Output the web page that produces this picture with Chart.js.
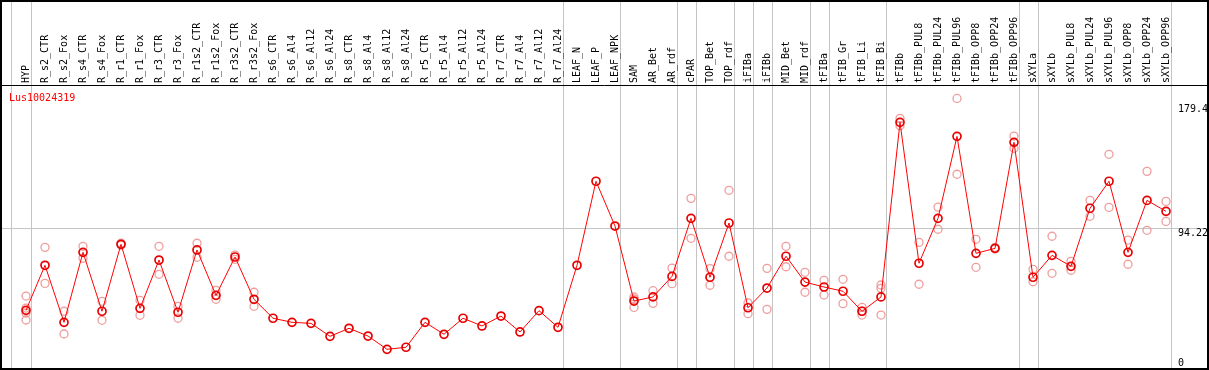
<!DOCTYPE html>
<html>
<head>
<meta charset="utf-8">
<script src="https://cdn.jsdelivr.net/npm/chart.js@4.4.1/dist/chart.umd.min.js"></script>
<style>
html,body{margin:0;padding:0;background:#fff;}
canvas{display:block;}
</style>
</head>
<body>
<canvas id="c" width="1209" height="370"></canvas>
<script>
const geneTitle = "Lus10024319";
const categories = ["HYP","R_s2_CTR","R_s2_Fox","R_s4_CTR","R_s4_Fox","R_r1_CTR","R_r1_Fox","R_r3_CTR","R_r3_Fox","R_r1s2_CTR","R_r1s2_Fox","R_r3s2_CTR","R_r3s2_Fox","R_s6_CTR","R_s6_Al4","R_s6_Al12","R_s6_Al24","R_s8_CTR","R_s8_Al4","R_s8_Al12","R_s8_Al24","R_r5_CTR","R_r5_Al4","R_r5_Al12","R_r5_Al24","R_r7_CTR","R_r7_Al4","R_r7_Al12","R_r7_Al24","LEAF_N","LEAF_P","LEAF_NPK","SAM","AR_Bet","AR_rdf","cPAR","TOP_Bet","TOP_rdf","iFIBa","iFIBb","MID_Bet","MID_rdf","tFIBa","tFIB_Gr","tFIB_Li","tFIB_Bi","tFIBb","tFIBb_PUL8","tFIBb_PUL24","tFIBb_PUL96","tFIBb_OPP8","tFIBb_OPP24","tFIBb_OPP96","sXYLa","sXYLb","sXYLb_PUL8","sXYLb_PUL24","sXYLb_PUL96","sXYLb_OPP8","sXYLb_OPP24","sXYLb_OPP96"];

const meanValues = [38.0,68.9,29.8,77.8,37.4,83.3,39.4,72.5,36.7,79.4,48.3,74.6,45.6,
  32.6,29.8,29.1,20.2,25.7,20.4,11.3,12.7,29.8,21.6,32.6,27.3,34.1,23.2,37.8,26.4,
  68.9,126.5,95.8,
  44.4,47.2,61.3,101.1,60.7,97.9,39.8,53.3,75.1,57.4,54.0,51.1,37.4,47.2,
  166.9,70.3,101.1,157.3,77.1,80.5,153.2,60.7,75.7,68.2,108.0,126.5,77.8,113.4,105.9];

const rep1 = [47.8,81.2,37.4,81.9,44.2,84.0,44.9,81.9,40.8,84.0,51.7,75.9,50.4,
  null,null,null,null,null,null,null,null,null,null,null,null,null,null,null,null,
  null,null,null,
  47.2,51.5,67.0,114.8,66.6,120.3,43.2,66.8,81.9,64.1,58.6,59.3,40.1,55.4,
  169.6,84.6,108.8,183.3,86.7,81.2,157.5,66.1,88.8,71.6,113.4,145.0,86.2,133.3,112.7];

const rep2 = [39.6,56.5,21.8,73.7,31.2,82.8,34.6,62.7,32.6,74.4,45.6,73.0,40.8,
  null,null,null,null,null,null,null,null,null,null,null,null,null,null,null,null,
  null,null,null,
  45.8,42.8,56.3,87.4,55.2,75.1,35.7,38.7,67.9,50.4,48.5,42.6,34.8,53.1,
  164.6,55.9,93.6,131.3,67.5,80.1,149.1,57.6,63.4,65.5,102.5,108.6,69.6,92.9,99.0];

const rep3 = [36.2,null,null,null,null,null,null,null,null,null,null,null,null,
  null,null,null,null,null,null,null,null,null,null,null,null,null,null,null,null,
  null,null,null,
  40.0,null,null,null,null,null,null,null,null,null,null,null,37.4,34.8,
  null,null,null,null,null,null,null,null,null,null,null,null,null,null,null];

const rep4 = [31.4];

const yTicks = [0, 94.22, 179.4];
const gridTick = 94.22;
const groupEnds = [0,28,31,34,35,37,38,39,41,42,45,52,53,60];

const toPts = arr => categories.map((_, i) => ({x: i, y: (arr[i] === undefined ? null : arr[i])}));

const repStyle = {
  showLine: false, pointStyle: 'circle', pointRadius: 4, pointBorderWidth: 1.3,
  pointBorderColor: 'rgba(236,140,140,0.85)', pointBackgroundColor: 'rgba(0,0,0,0)', order: 1
};

const framePlugin = {
  id: 'framePlugin',
  beforeDatasetsDraw(chart) {
    const {ctx, scales: {x}, chartArea} = chart;
    ctx.save();
    ctx.strokeStyle = '#c4c4c4';
    ctx.lineWidth = 1;
    const seps = [-0.805].concat(groupEnds.map(g => g + 0.247));
    seps.forEach(v => {
      const px = Math.round(x.getPixelForValue(v)) + 0.5;
      ctx.beginPath(); ctx.moveTo(px, 0); ctx.lineTo(px, chartArea.bottom); ctx.stroke();
    });
    ctx.fillStyle = '#000';
    ctx.font = '10px "DejaVu Sans Mono"';
    ctx.textAlign = 'left';
    ctx.textBaseline = 'alphabetic';
    categories.forEach((name, i) => {
      const px = x.getPixelForValue(i);
      ctx.save();
      ctx.translate(px + 2.5, chartArea.top - 2);
      ctx.rotate(-Math.PI / 2);
      ctx.fillText(name, 0, 0);
      ctx.restore();
    });
    ctx.restore();
  },
  afterDraw(chart) {
    const {ctx, scales: {y}, chartArea} = chart;
    ctx.save();
    ctx.strokeStyle = '#000';
    ctx.lineWidth = 2;
    ctx.strokeRect(1, 1, chart.width - 2, chart.height - 2);
    ctx.lineWidth = 1;
    ctx.beginPath(); ctx.moveTo(0, chartArea.top + 0.5); ctx.lineTo(chart.width, chartArea.top + 0.5); ctx.stroke();
    ctx.font = '10px "DejaVu Sans Mono"';
    ctx.textBaseline = 'alphabetic';
    ctx.textAlign = 'left';
    ctx.fillStyle = '#ff0000';
    ctx.fillText(geneTitle, 9, chartArea.top + 16);
    ctx.fillStyle = '#000';
    yTicks.forEach(v => {
      const py = Math.min(y.getPixelForValue(v) + 7.5, chartArea.bottom - 3.5);
      ctx.fillText(String(v), 1178, py);
    });
    ctx.restore();
  }
};

new Chart(document.getElementById('c'), {
  type: 'line',
  data: {
    datasets: [
      {
        label: 'mean', data: toPts(meanValues), borderColor: '#ff0000', borderWidth: 1,
        tension: 0, pointStyle: 'circle', pointRadius: 4, pointBorderWidth: 1.7,
        pointBorderColor: '#e80000', pointBackgroundColor: 'rgba(0,0,0,0)', order: 0
      },
      Object.assign({label: 'r1', data: toPts(rep1)}, repStyle),
      Object.assign({label: 'r2', data: toPts(rep2)}, repStyle),
      Object.assign({label: 'r3', data: toPts(rep3)}, repStyle),
      Object.assign({label: 'r4', data: toPts(rep4)}, repStyle)
    ]
  },
  options: {
    responsive: false, animation: false, devicePixelRatio: 1,
    layout: {autoPadding: false, padding: {left: 1, right: 1, top: 0, bottom: 1}},
    plugins: {legend: {display: false}, tooltip: {enabled: false}},
    scales: {
      x: {
        type: 'linear', position: 'top', min: -1.316, max: 62.21,
        afterBuildTicks: s => { s.ticks = categories.map((_, i) => ({value: i})); },
        afterFit: s => { s.height = 85; s.paddingLeft = 0; s.paddingRight = 0; s.paddingTop = 0; s.paddingBottom = 0; },
        grid: {display: false, drawTicks: false}, border: {display: false},
        ticks: {display: false}
      },
      y: {
        type: 'linear', position: 'right', min: -2.2, max: 192.5,
        afterBuildTicks: s => { s.ticks = yTicks.map(v => ({value: v})); },
        afterFit: s => { s.width = 0; s.paddingTop = 0; s.paddingBottom = 0; },
        ticks: {display: false}, border: {display: false},
        grid: {drawTicks: false, lineWidth: 1,
          color: c => (c.tick && c.tick.value === gridTick) ? '#c4c4c4' : 'rgba(0,0,0,0)'}
      }
    }
  },
  plugins: [framePlugin]
});
</script>
</body>
</html>
